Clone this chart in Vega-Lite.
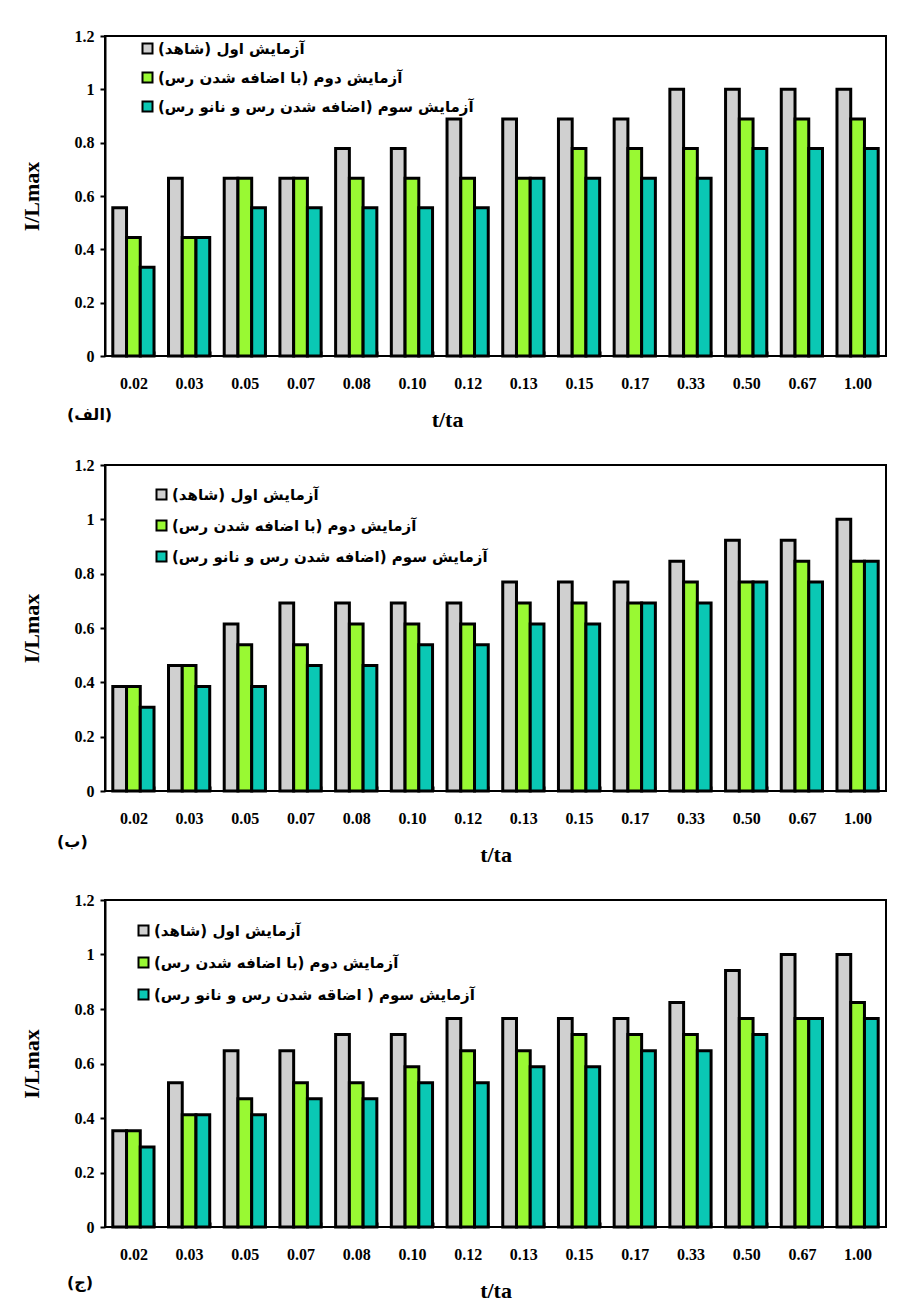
{
"$schema":"https://vega.github.io/schema/vega-lite/v6.json",
"padding":{"top":27,"left":19,"right":5,"bottom":2},
"background":"white",
"spacing":25,
"datasets":{
"p1":[
{"t":"0.02","k":"1","v":0.556},{"t":"0.02","k":"2","v":0.444},{"t":"0.02","k":"3","v":0.333},
{"t":"0.03","k":"1","v":0.667},{"t":"0.03","k":"2","v":0.444},{"t":"0.03","k":"3","v":0.444},
{"t":"0.05","k":"1","v":0.667},{"t":"0.05","k":"2","v":0.667},{"t":"0.05","k":"3","v":0.556},
{"t":"0.07","k":"1","v":0.667},{"t":"0.07","k":"2","v":0.667},{"t":"0.07","k":"3","v":0.556},
{"t":"0.08","k":"1","v":0.778},{"t":"0.08","k":"2","v":0.667},{"t":"0.08","k":"3","v":0.556},
{"t":"0.10","k":"1","v":0.778},{"t":"0.10","k":"2","v":0.667},{"t":"0.10","k":"3","v":0.556},
{"t":"0.12","k":"1","v":0.889},{"t":"0.12","k":"2","v":0.667},{"t":"0.12","k":"3","v":0.556},
{"t":"0.13","k":"1","v":0.889},{"t":"0.13","k":"2","v":0.667},{"t":"0.13","k":"3","v":0.667},
{"t":"0.15","k":"1","v":0.889},{"t":"0.15","k":"2","v":0.778},{"t":"0.15","k":"3","v":0.667},
{"t":"0.17","k":"1","v":0.889},{"t":"0.17","k":"2","v":0.778},{"t":"0.17","k":"3","v":0.667},
{"t":"0.33","k":"1","v":1},{"t":"0.33","k":"2","v":0.778},{"t":"0.33","k":"3","v":0.667},
{"t":"0.50","k":"1","v":1},{"t":"0.50","k":"2","v":0.889},{"t":"0.50","k":"3","v":0.778},
{"t":"0.67","k":"1","v":1},{"t":"0.67","k":"2","v":0.889},{"t":"0.67","k":"3","v":0.778},
{"t":"1.00","k":"1","v":1},{"t":"1.00","k":"2","v":0.889},{"t":"1.00","k":"3","v":0.778}
],
"p2":[
{"t":"0.02","k":"1","v":0.385},{"t":"0.02","k":"2","v":0.385},{"t":"0.02","k":"3","v":0.308},
{"t":"0.03","k":"1","v":0.462},{"t":"0.03","k":"2","v":0.462},{"t":"0.03","k":"3","v":0.385},
{"t":"0.05","k":"1","v":0.615},{"t":"0.05","k":"2","v":0.538},{"t":"0.05","k":"3","v":0.385},
{"t":"0.07","k":"1","v":0.692},{"t":"0.07","k":"2","v":0.538},{"t":"0.07","k":"3","v":0.462},
{"t":"0.08","k":"1","v":0.692},{"t":"0.08","k":"2","v":0.615},{"t":"0.08","k":"3","v":0.462},
{"t":"0.10","k":"1","v":0.692},{"t":"0.10","k":"2","v":0.615},{"t":"0.10","k":"3","v":0.538},
{"t":"0.12","k":"1","v":0.692},{"t":"0.12","k":"2","v":0.615},{"t":"0.12","k":"3","v":0.538},
{"t":"0.13","k":"1","v":0.769},{"t":"0.13","k":"2","v":0.692},{"t":"0.13","k":"3","v":0.615},
{"t":"0.15","k":"1","v":0.769},{"t":"0.15","k":"2","v":0.692},{"t":"0.15","k":"3","v":0.615},
{"t":"0.17","k":"1","v":0.769},{"t":"0.17","k":"2","v":0.692},{"t":"0.17","k":"3","v":0.692},
{"t":"0.33","k":"1","v":0.846},{"t":"0.33","k":"2","v":0.769},{"t":"0.33","k":"3","v":0.692},
{"t":"0.50","k":"1","v":0.923},{"t":"0.50","k":"2","v":0.769},{"t":"0.50","k":"3","v":0.769},
{"t":"0.67","k":"1","v":0.923},{"t":"0.67","k":"2","v":0.846},{"t":"0.67","k":"3","v":0.769},
{"t":"1.00","k":"1","v":1},{"t":"1.00","k":"2","v":0.846},{"t":"1.00","k":"3","v":0.846}
],
"p3":[
{"t":"0.02","k":"1","v":0.353},{"t":"0.02","k":"2","v":0.353},{"t":"0.02","k":"3","v":0.294},
{"t":"0.03","k":"1","v":0.529},{"t":"0.03","k":"2","v":0.412},{"t":"0.03","k":"3","v":0.412},
{"t":"0.05","k":"1","v":0.647},{"t":"0.05","k":"2","v":0.471},{"t":"0.05","k":"3","v":0.412},
{"t":"0.07","k":"1","v":0.647},{"t":"0.07","k":"2","v":0.529},{"t":"0.07","k":"3","v":0.471},
{"t":"0.08","k":"1","v":0.706},{"t":"0.08","k":"2","v":0.529},{"t":"0.08","k":"3","v":0.471},
{"t":"0.10","k":"1","v":0.706},{"t":"0.10","k":"2","v":0.588},{"t":"0.10","k":"3","v":0.529},
{"t":"0.12","k":"1","v":0.765},{"t":"0.12","k":"2","v":0.647},{"t":"0.12","k":"3","v":0.529},
{"t":"0.13","k":"1","v":0.765},{"t":"0.13","k":"2","v":0.647},{"t":"0.13","k":"3","v":0.588},
{"t":"0.15","k":"1","v":0.765},{"t":"0.15","k":"2","v":0.706},{"t":"0.15","k":"3","v":0.588},
{"t":"0.17","k":"1","v":0.765},{"t":"0.17","k":"2","v":0.706},{"t":"0.17","k":"3","v":0.647},
{"t":"0.33","k":"1","v":0.824},{"t":"0.33","k":"2","v":0.706},{"t":"0.33","k":"3","v":0.647},
{"t":"0.50","k":"1","v":0.941},{"t":"0.50","k":"2","v":0.765},{"t":"0.50","k":"3","v":0.706},
{"t":"0.67","k":"1","v":1},{"t":"0.67","k":"2","v":0.765},{"t":"0.67","k":"3","v":0.765},
{"t":"1.00","k":"1","v":1},{"t":"1.00","k":"2","v":0.824},{"t":"1.00","k":"3","v":0.765}
]
},
"config":{
"view":{"stroke":"black","strokeWidth":2},
"axis":{"grid":false,"domainColor":"black","domainWidth":2,"tickColor":"black","tickWidth":2,"labelColor":"black","titleColor":"black","labelFont":"Liberation Serif","labelFontWeight":"bold","labelFontSize":16,"titleFont":"Liberation Serif","titleFontWeight":"bold","titleFontSize":22},
"axisX":{"labelAngle":0,"tickBand":"extent","offset":-5,"domain":false,"tickSize":5,"labelPadding":19,"titlePadding":18},
"axisY":{"tickSize":5,"labelPadding":6,"titlePadding":31},
"legend":{"orient":"none","direction":"vertical","title":null,"symbolType":"square","symbolSize":100,"symbolStrokeColor":"black","symbolStrokeWidth":2,"symbolOpacity":1,"labelFont":"DejaVu Sans","labelFontWeight":"bold","labelFontSize":15,"labelColor":"black","labelLimit":600,"labelOffset":3,"padding":0},
"title":{"font":"DejaVu Sans","fontSize":16,"fontWeight":"bold","color":"black"}
},
"resolve":{"scale":{"x":"independent","y":"independent","color":"independent","xOffset":"independent"},"legend":{"color":"independent"}},
"vconcat":[
{
"width":781,"height":320,
"data":{"name":"p1"},
"title":{"text":"(الف)","orient":"bottom","anchor":"start","frame":"group","offset":-23,"dx":-38},
"mark":{"type":"bar","stroke":"black","strokeWidth":3,"strokeOpacity":1},
"encoding":{
"x":{"field":"t","type":"nominal","sort":null,"title":"t/ta","scale":{"paddingInner":0.26,"paddingOuter":0.14},"axis":{"titleX":342}},
"xOffset":{"field":"k","type":"nominal","sort":null},
"y":{"field":"v","type":"quantitative","title":"I/Lmax","scale":{"domain":[0,1.2]},"axis":{"values":[0,0.2,0.4,0.6,0.8,1,1.2],"format":"~g"}},
"color":{"field":"k","type":"nominal","scale":{"domain":["1","2","3"],"range":["#D0D0D0","#99F933","#0AC8B4"]},"legend":{"legendX":35,"legendY":5,"rowPadding":10,"labelExpr":"datum.value == '1' ? 'آزمایش اول (شاهد)' : datum.value == '2' ? 'آزمایش دوم (با اضافه شدن رس)' : 'آزمایش سوم (اضافه شدن رس و نانو رس)'"}}
}
},
{
"width":781,"height":326,
"data":{"name":"p2"},
"title":{"text":"(ب)","orient":"bottom","anchor":"start","frame":"group","offset":-31,"dx":-48},
"mark":{"type":"bar","stroke":"black","strokeWidth":3,"strokeOpacity":1},
"encoding":{
"x":{"field":"t","type":"nominal","sort":null,"title":"t/ta","scale":{"paddingInner":0.26,"paddingOuter":0.14}},
"xOffset":{"field":"k","type":"nominal","sort":null},
"y":{"field":"v","type":"quantitative","title":"I/Lmax","scale":{"domain":[0,1.2]},"axis":{"values":[0,0.2,0.4,0.6,0.8,1,1.2],"format":"~g"}},
"color":{"field":"k","type":"nominal","scale":{"domain":["1","2","3"],"range":["#D0D0D0","#99F933","#0AC8B4"]},"legend":{"legendX":49,"legendY":22,"rowPadding":12,"labelExpr":"datum.value == '1' ? 'آزمایش اول (شاهد)' : datum.value == '2' ? 'آزمایش دوم (با اضافه شدن رس)' : 'آزمایش سوم (اضافه شدن رس و نانو رس)'"}}
}
},
{
"width":781,"height":327,
"data":{"name":"p3"},
"title":{"text":"(ج)","orient":"bottom","anchor":"start","frame":"group","offset":-26,"dx":-38},
"mark":{"type":"bar","stroke":"black","strokeWidth":3,"strokeOpacity":1},
"encoding":{
"x":{"field":"t","type":"nominal","sort":null,"title":"t/ta","scale":{"paddingInner":0.26,"paddingOuter":0.14}},
"xOffset":{"field":"k","type":"nominal","sort":null},
"y":{"field":"v","type":"quantitative","title":"I/Lmax","scale":{"domain":[0,1.2]},"axis":{"values":[0,0.2,0.4,0.6,0.8,1,1.2],"format":"~g"}},
"color":{"field":"k","type":"nominal","scale":{"domain":["1","2","3"],"range":["#D0D0D0","#99F933","#0AC8B4"]},"legend":{"legendX":31,"legendY":23,"rowPadding":13,"labelExpr":"datum.value == '1' ? 'آزمایش اول (شاهد)' : datum.value == '2' ? 'آزمایش دوم (با اضافه شدن رس)' : 'آزمایش سوم ( اضاقه شدن رس و نانو رس)'"}}
}
}
]
}
